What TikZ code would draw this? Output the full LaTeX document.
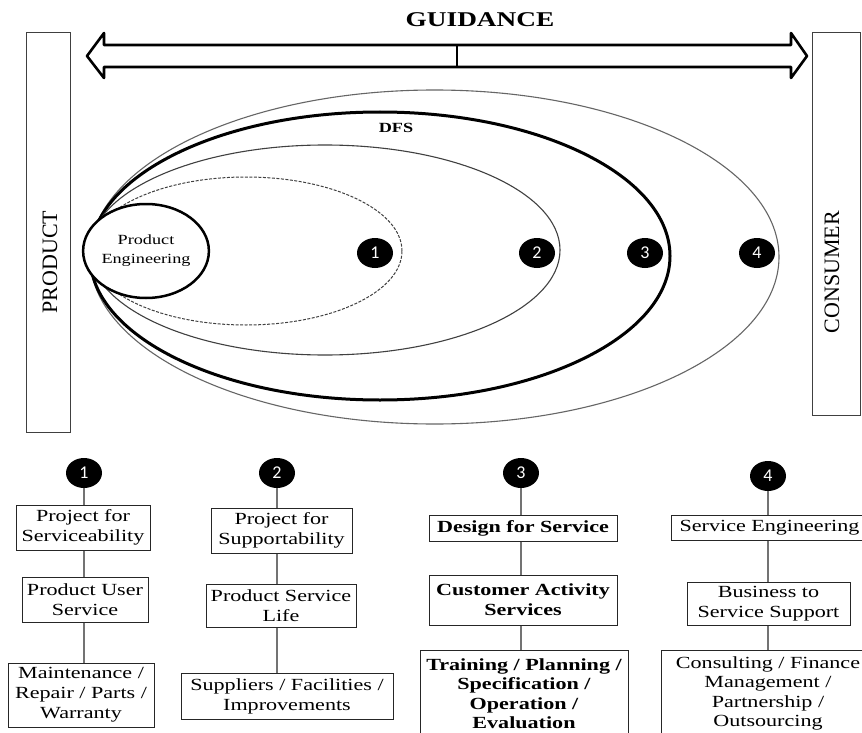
\documentclass[tikz,border=0pt]{standalone}
\usepackage{fontspec}
\setmainfont{Liberation Serif}[FakeStretch=1.3]
\newfontfamily\sideserif{Liberation Serif}
\newfontfamily\numfont{Carlito}
\usetikzlibrary{shapes.geometric}

\tikzset{
  box/.style={draw=black!85, line width=1pt, fill=white, inner sep=0pt,
    align=center, font=\fontsize{17}{20}\selectfont},
  boldbox/.style={box, font=\fontsize{17}{20}\selectfont\bfseries},
  badge/.style={ellipse, fill=black, minimum width=36pt, minimum height=30pt,
    inner sep=0pt, text=white, font=\numfont\fontsize{18}{18}\selectfont},
  conn/.style={draw=black!55, line width=1.5pt},
  sidebar/.style={draw=black!75, line width=1pt, fill=white},
  sidelabel/.style={rotate=90, font=\sideserif\fontsize{22}{22}\selectfont},
}

\begin{document}
\begin{tikzpicture}[x=1pt, y=-1pt]
\useasboundingbox[fill=white] (0,0) rectangle (862,733);

% side bars
\node[sidebar, minimum width=44pt, minimum height=399pt, inner sep=0pt] (prodbar) at (48,232.5) {};
\node[sidelabel] (prodtxt) at (50,262) {PRODUCT};
\node[sidebar, minimum width=48pt, minimum height=382pt, inner sep=0pt] (consbar) at (836,224) {};
\node[sidelabel] (constxt) at (832,272) {CONSUMER};

% guidance double arrow
\node[font=\fontsize{21}{21}\selectfont\bfseries] (guid) at (480,20) {GUIDANCE};
\draw[line width=2.6pt, line join=round, fill=white]
  (87,56) -- (104,33) -- (104,45) -- (791,45) -- (791,33) -- (807,56)
  -- (791,78) -- (791,67) -- (104,67) -- (104,78) -- cycle;
\coordinate (divtop) at (457,45);
\coordinate (divbot) at (457,67);
\draw[line width=2pt] (divtop) -- (divbot);

% nested service ellipses
\draw[black!60, line width=1.1pt] (434.5,257) ellipse [x radius=344.5pt, y radius=167pt];
\draw[black, line width=3pt] (380,256) ellipse [x radius=290pt, y radius=144pt];
\draw[black!75, line width=1.1pt] (325,250) ellipse [x radius=235pt, y radius=105pt];
\draw[black!75, line width=1pt, dash pattern=on 3pt off 1.5pt] (246,251) ellipse [x radius=156pt, y radius=74pt];
\node[font=\fontsize{14}{14}\selectfont\bfseries] (dfs) at (396,128) {DFS};

% product engineering core
\node[ellipse, draw=black, line width=2.5pt, fill=white, minimum width=108pt,
  minimum height=94pt, inner sep=0pt, align=center,
  font=\fontsize{14}{19}\selectfont] (pe) at (146,251) {Product\\Engineering};

% markers inside the ellipses
\node[badge] (t1) at (375,253) {1};
\node[badge] (t2) at (537,253) {2};
\node[badge] (t3) at (645,253) {3};
\node[badge] (t4) at (757,253) {4};

% column 1
\node[badge] (n1) at (84,473) {1};
\node[box, minimum width=134pt, minimum height=45pt] (b11) at (83,527.5) {Project for\\Serviceability};
\node[box, minimum width=126pt, minimum height=45pt] (b12) at (85,599.5) {Product User\\Service};
\node[box, minimum width=146pt, minimum height=64pt] (b13) at (81,695) {Maintenance /\\Repair / Parts /\\Warranty};

% column 2
\node[badge] (n2) at (277,473) {2};
\node[box, minimum width=141pt, minimum height=45pt] (b21) at (281.5,530.5) {Project for\\Supportability};
\node[box, minimum width=150pt, minimum height=43pt] (b22) at (281,605.5) {Product Service\\Life};
\node[box, minimum width=212pt, minimum height=46pt] (b23) at (287,696) {Suppliers / Facilities /\\Improvements};

% column 3
\node[badge] (n3) at (521,473) {3};
\node[boldbox, minimum width=188pt, minimum height=26pt] (b31) at (523,528) {Design for Service};
\node[boldbox, minimum width=188pt, minimum height=50pt] (b32) at (523,600) {Customer Activity\\Services};
\node[boldbox, minimum width=208pt, minimum height=86pt,
  font=\fontsize{17}{19.5}\selectfont\bfseries] (b33) at (524,693.5)
  {Training / Planning /\\Specification /\\Operation /\\Evaluation};

% column 4
\node[badge] (n4) at (768,476) {4};
\node[box, minimum width=197pt, minimum height=25pt] (b41) at (769.5,527.5) {Service Engineering};
\node[box, minimum width=163pt, minimum height=43pt] (b42) at (768.5,603.5) {Business to\\Service Support};
\node[box, minimum width=214pt, minimum height=86pt,
  font=\fontsize{17}{19.5}\selectfont] (b43) at (768,693.5)
  {Consulting / Finance\\Management /\\Partnership /\\Outsourcing};

% vertical connectors
\foreach \n/\a/\b/\c in {n1/b11/b12/b13, n2/b21/b22/b23, n3/b31/b32/b33, n4/b41/b42/b43}{
  \draw[conn] (\n.south) -- (\n.south |- \a.north);
  \draw[conn] (\n |- \a.south) -- (\n |- \b.north);
  \draw[conn] (\n |- \b.south) -- (\n |- \c.north);
}
\end{tikzpicture}
\end{document}
